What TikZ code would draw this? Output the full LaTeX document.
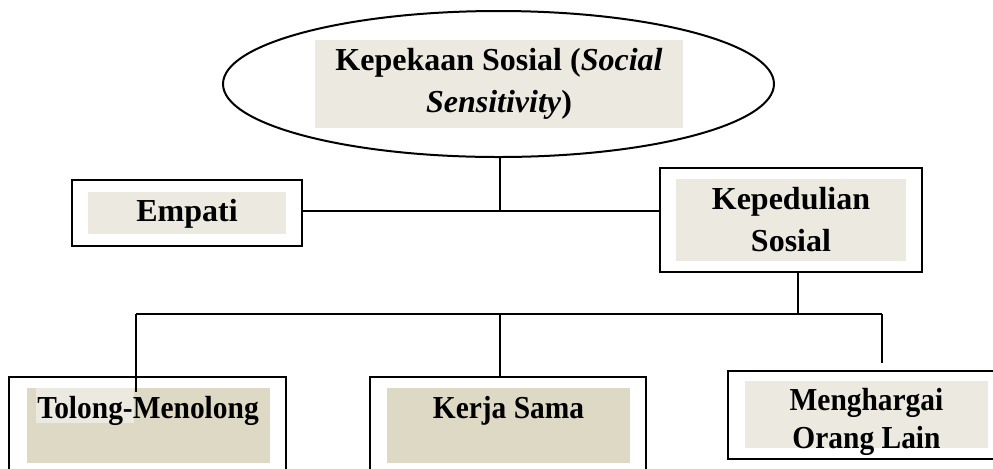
\documentclass[tikz,border=0pt]{standalone}
\usepackage{fontspec}
\setmainfont{Liberation Serif}
\newfontfamily\leaffamily[FakeStretch=0.92]{Liberation Serif}
\usetikzlibrary{shapes.geometric}
\definecolor{lightshade}{HTML}{ECEAE0}
\definecolor{darkshade}{HTML}{DDD9C4}

\begin{document}
\begin{tikzpicture}[x=0.5pt, y=-0.5pt, line width=1pt,
    outerbox/.style={rectangle, draw, fill=white, inner sep=0pt},
    shadebox/.style={rectangle, fill=#1, inner sep=0pt, align=center,
        font=\fontsize{16}{21}\selectfont\bfseries},
    shadebox/.default=lightshade,
    leaffont/.style={font=\leaffamily\fontsize{16}{19}\selectfont\bfseries}]
    \clip (0,0) rectangle (993,468);

    % Define nodes
    \node (sosial) [ellipse, draw, minimum width=275.5pt, minimum height=73pt] at (498.5,84) {};
    \node (sosialT) [shadebox, minimum width=184pt, minimum height=44pt] at (499,84) {Kepekaan Sosial (\textit{Social}\\\textit{Sensitivity})};

    \node (empati) [outerbox, minimum width=115pt, minimum height=33pt] at (187,213) {};
    \node (empatiT) [shadebox, minimum width=99pt, text height=14.5pt, text depth=6.5pt] at (187,213) {Empati};

    \node (kepedulian) [outerbox, minimum width=131pt, minimum height=52pt] at (791,220) {};
    \node (kepedulianT) [shadebox, minimum width=115pt, minimum height=41pt] at (791,220) {Kepedulian\\Sosial};

    \node (tolong) [outerbox, minimum width=138.5pt, minimum height=56.5pt] at (147.5,433.5) {};
    \node (tolongT) [shadebox=darkshade, minimum width=121.5pt, minimum height=37.5pt] at (148.5,425.5) {};
    \fill[lightshade] (36,388) rectangle (134,423);
    \node (tolongL) [shadebox=none, leaffont, anchor=base] at (148,418) {Tolong-Menolong};

    \node (kerja) [outerbox, minimum width=138pt, minimum height=56.5pt] at (508,433.5) {};
    \node (kerjaT) [shadebox=darkshade, leaffont, minimum width=121.5pt, text height=15pt, text depth=22.5pt] at (508.5,425.5) {Kerja Sama};

    \node (menghargai) [outerbox, minimum width=141pt, minimum height=44pt] at (869,415) {};
    \node (menghargaiT) [shadebox, leaffont, minimum width=121.5pt,
        text height=33.5pt, text depth=0pt] at (866.5,414.5) {Menghargai\\Orang Lain};

    \coordinate (hub) at (500,211);
    \coordinate (split) at (798,314);
    \coordinate (tolongEnd) at (136,392);
    \coordinate (menghargaiEnd) at (882,363);

    % Draw edges
    \draw (hub |- sosial.south) -- (hub);
    \draw (empati.east |- hub) -- (kepedulian.west |- hub);
    \draw (kepedulian.south -| split) -- (split);
    \draw (tolongEnd |- split) -- (menghargaiEnd |- split);
    \draw (tolongEnd |- split) -- (tolongEnd);
    \draw (split -| hub) -- (kerja.north -| hub);
    \draw (menghargaiEnd |- split) -- (menghargaiEnd);
\end{tikzpicture}
\end{document}
